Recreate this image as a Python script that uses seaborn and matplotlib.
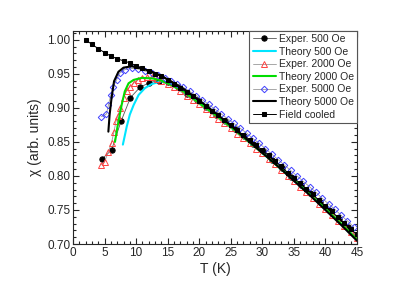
import numpy as np
import pandas as pd
import seaborn as sns
import matplotlib
matplotlib.use("Agg")
import matplotlib.pyplot as plt
from matplotlib.ticker import MultipleLocator

# field cooled (black squares)
T_fc = list(range(2, 46))
chi_fc = [1.000, 0.993, 0.987, 0.981, 0.976, 0.972, 0.969, 0.966, 0.962, 0.958,
          0.954, 0.950, 0.946, 0.941, 0.935, 0.929, 0.923, 0.917, 0.910, 0.903,
          0.896, 0.889, 0.882, 0.875, 0.867, 0.860, 0.853, 0.845, 0.838, 0.830,
          0.822, 0.814, 0.805, 0.797, 0.789, 0.781, 0.773, 0.764, 0.756, 0.748,
          0.739, 0.731, 0.722, 0.714]

# experiment 500 Oe (black circles)
T_e500 = [4.6, 6.1, 7.6, 9.1, 10.6, 12.1, 13.6, 15.1, 16.6, 18.1, 19.6, 21.1,
          22.6, 24.1, 25.6, 27.1, 28.6, 30.1, 31.6, 33.1, 34.6, 36.1, 37.6,
          39.1, 40.6, 42.1, 43.6, 45.0]
chi_e500 = [0.825, 0.838, 0.880, 0.915, 0.930, 0.937, 0.940, 0.938, 0.930, 0.921,
            0.911, 0.901, 0.890, 0.880, 0.869, 0.858, 0.847, 0.836, 0.824, 0.812,
            0.799, 0.787, 0.775, 0.762, 0.750, 0.737, 0.725, 0.713]

# experiment 2000 Oe (red triangles)
T_e2000 = [4.4, 5.0, 5.6, 6.1, 6.5, 6.8, 7.1, 7.5, 8.0, 8.5, 9.0, 9.6, 10.3, 11.0,
           11.7, 12.5, 13.3, 14.0, 15.0, 16.0, 17, 18, 19, 20, 21, 22, 23, 24,
           25, 26, 27, 28, 29, 30, 31, 32, 33, 34, 35, 36, 37, 38, 39, 40, 41,
           42, 43, 44, 45]
chi_e2000 = [0.816, 0.821, 0.835, 0.849, 0.865, 0.880, 0.888, 0.900, 0.915, 0.925,
             0.931, 0.936, 0.941, 0.944, 0.945, 0.945, 0.943, 0.940, 0.935, 0.930,
             0.924, 0.918, 0.912, 0.905, 0.898, 0.891, 0.884, 0.877, 0.870, 0.862,
             0.855, 0.848, 0.840, 0.833, 0.825, 0.817, 0.809, 0.800, 0.792, 0.784,
             0.776, 0.768, 0.759, 0.751, 0.743, 0.734, 0.726, 0.717, 0.709]

# experiment 5000 Oe (blue diamonds)
T_e5000 = [4.5, 5.3, 5.6, 6.0, 6.4, 6.9, 7.4, 8.2, 9.3, 10.3, 11.4, 12.5, 13.5,
           14.5, 15.5, 16.5, 17.5, 18.5, 19.5, 20.5, 21.5, 22.5, 23.5, 24.5, 25.5,
           26.5, 27.5, 28.5, 29.5, 30.5, 31.5, 32.5, 33.5, 34.5, 35.5, 36.5, 37.5,
           38.5, 39.5, 40.5, 41.5, 42.5, 43.5, 44.5]
chi_e5000 = [0.887, 0.891, 0.904, 0.919, 0.931, 0.941, 0.951, 0.956, 0.958, 0.957,
             0.954, 0.951, 0.948, 0.944, 0.940, 0.935, 0.930, 0.924, 0.918, 0.912,
             0.905, 0.898, 0.891, 0.884, 0.877, 0.870, 0.863, 0.855, 0.848, 0.840,
             0.832, 0.824, 0.816, 0.808, 0.800, 0.792, 0.784, 0.776, 0.767, 0.759,
             0.751, 0.742, 0.734, 0.725]

# theory curves
T_t500 = [7.9, 8.5, 9.0, 9.6, 10.4, 11.4, 12.5, 14.0, 15.5, 17.5, 20, 22.5, 25,
          27.5, 30, 32.5, 35, 37.5, 40, 42.5, 45]
chi_t500 = [0.846, 0.872, 0.890, 0.904, 0.919, 0.929, 0.935, 0.939, 0.935, 0.925,
            0.908, 0.891, 0.872, 0.853, 0.834, 0.814, 0.793, 0.773, 0.751, 0.729,
            0.706]
T_t2000 = [6.65, 7.0, 7.2, 7.7, 8.2, 8.8, 9.6, 10.9, 12.7, 14.0, 15.5, 17.5, 20,
           22.5, 25, 27.5, 30, 32.5, 35, 37.5, 40, 42.5, 45]
chi_t2000 = [0.850, 0.870, 0.880, 0.904, 0.924, 0.936, 0.941, 0.944, 0.943, 0.940,
             0.934, 0.924, 0.907, 0.890, 0.872, 0.853, 0.834, 0.814, 0.794, 0.773,
             0.752, 0.730, 0.707]
T_t5000 = [5.6, 5.8, 6.1, 6.5, 7.2, 8.0, 9.3, 10.9, 12.5, 14.0, 15.5, 17.5, 20,
           22.5, 25, 27.5, 30, 32.5, 35, 37.5, 40, 42.5, 45]
chi_t5000 = [0.865, 0.890, 0.914, 0.939, 0.953, 0.959, 0.961, 0.958, 0.953, 0.947,
             0.939, 0.928, 0.911, 0.893, 0.874, 0.854, 0.834, 0.814, 0.793, 0.772,
             0.750, 0.728, 0.705]

sns.set_style("ticks")
plt.rcParams['font.family'] = ['Liberation Sans', 'DejaVu Sans']

fig = plt.figure(figsize=(4.15, 2.94), dpi=100)
ax = fig.add_axes([0.176, 0.170, 0.684, 0.725])

sns.lineplot(x=T_e500, y=chi_e500, ax=ax, sort=False, color='#555555', lw=0.6,
             marker='o', ms=3.8, mfc='black', mec='black', label='Exper. 500 Oe')
sns.lineplot(x=T_t500, y=chi_t500, ax=ax, sort=False, color='#00e5ff', lw=1.5,
             label='Theory 500 Oe')
sns.lineplot(x=T_e2000, y=chi_e2000, ax=ax, sort=False, color='#999999', lw=0.6,
             marker='^', ms=3.8, mfc='none', mec='#ff4040', mew=0.7,
             label='Exper. 2000 Oe')
sns.lineplot(x=T_t2000, y=chi_t2000, ax=ax, sort=False, color='#00dd00', lw=1.5,
             label='Theory 2000 Oe')
sns.lineplot(x=T_e5000, y=chi_e5000, ax=ax, sort=False, color='#999999', lw=0.6,
             marker='D', ms=3.3, mfc='none', mec='#4040ff', mew=0.7,
             label='Exper. 5000 Oe')
sns.lineplot(x=T_t5000, y=chi_t5000, ax=ax, sort=False, color='black', lw=1.5,
             label='Theory 5000 Oe')
sns.lineplot(x=T_fc, y=chi_fc, ax=ax, sort=False, color='black', lw=0.7,
             marker='s', ms=3.3, mfc='black', mec='black', label='Field cooled')

ax.set_xlim(0, 45)
ax.set_ylim(0.70, 1.013)
ax.xaxis.set_major_locator(MultipleLocator(5))
ax.xaxis.set_minor_locator(MultipleLocator(1))
ax.yaxis.set_major_locator(MultipleLocator(0.05))
ax.yaxis.set_minor_locator(MultipleLocator(0.01))
ax.yaxis.set_major_formatter(matplotlib.ticker.FormatStrFormatter('%.2f'))
ax.tick_params(which='both', direction='in', top=True, right=True,
               labelsize=8.5, pad=2, width=0.8)
ax.tick_params(which='major', length=4)
ax.tick_params(which='minor', length=2)
for s in ax.spines.values():
    s.set_linewidth(0.8)

ax.set_xlabel('T (K)', fontsize=10, labelpad=2)
ax.set_ylabel('χ (arb. units)', fontsize=10, labelpad=4)

leg = ax.legend(loc='upper right', bbox_to_anchor=(1, 1), borderaxespad=0,
                fontsize=7.5, handlelength=2.2, handletextpad=0.3,
                labelspacing=0.25, borderpad=0.3, fancybox=False,
                framealpha=1, edgecolor='#555555')
leg.get_frame().set_linewidth(0.8)

fig.savefig('out.png', dpi=100)
